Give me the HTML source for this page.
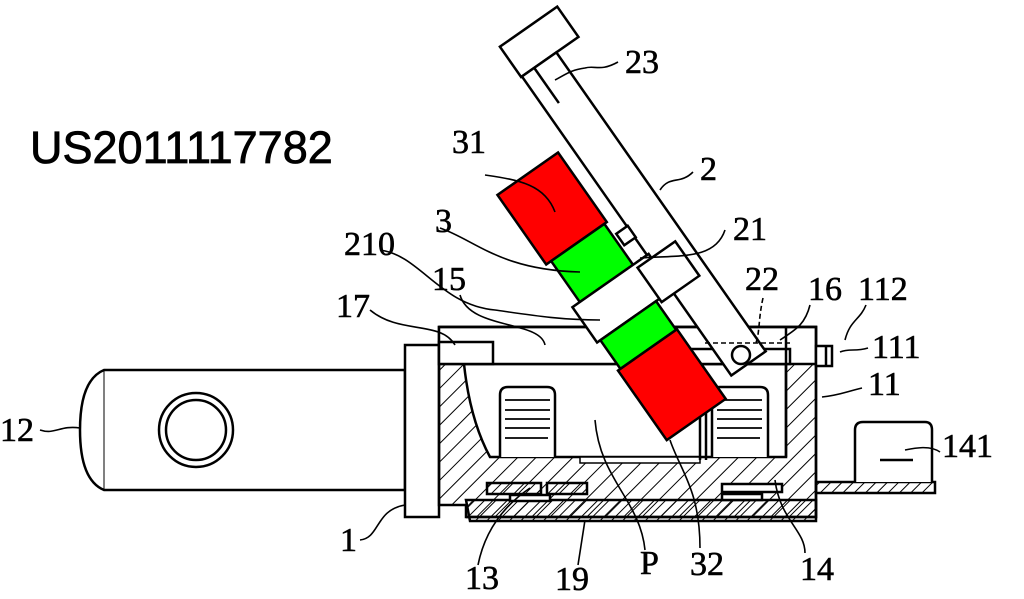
<!DOCTYPE html>
<html><head><meta charset="utf-8"><style>
html,body{margin:0;padding:0;background:#fff;}
svg{display:block;}
.t{font-family:"Liberation Serif",serif;font-size:34px;fill:#000;stroke:#000;stroke-width:0.6;}
</style></head><body>
<svg width="1024" height="599" viewBox="0 0 1024 599" xmlns="http://www.w3.org/2000/svg">
<defs>
<pattern id="h" width="13" height="13" patternUnits="userSpaceOnUse" patternTransform="rotate(45)">
<line x1="0" y1="0" x2="0" y2="13" stroke="#000" stroke-width="2"/>
</pattern>
<pattern id="h2" width="8" height="8" patternUnits="userSpaceOnUse" patternTransform="rotate(45)">
<line x1="0" y1="0" x2="0" y2="8" stroke="#000" stroke-width="2"/>
</pattern>
</defs>
<g fill="none" stroke="#000" stroke-width="2.5">
<path d="M104,370 L405,370 L405,490 L104,490 Q80,480 80,430 Q80,380 104,370 Z" fill="#fff"/>
<line x1="104" y1="370" x2="104" y2="490" stroke-width="1"/>
<circle cx="196" cy="430" r="37"/>
<circle cx="196" cy="430" r="30"/>
<rect x="405" y="345" width="34" height="172" fill="#fff"/>
<path d="M439,327 L816,327 L816,480 L816,517 L466,517 L466,505 L439,505 Z" fill="url(#h)"/>
<path d="M464,364 L786,364 L786,457 L490,457 Q470,420 464,364 Z" fill="#fff"/>
<rect x="439" y="327" width="377" height="37" fill="#fff"/>
<path d="M439,327 L816,327 L816,517 L466,517"/>
<rect x="439" y="342" width="54" height="22" fill="#fff"/>
<rect x="690" y="349" width="100" height="15" fill="#fff"/>
<line x1="786" y1="327" x2="786" y2="457"/>
<path d="M466,500 L816,500 L816,521 L470,521 Z" fill="url(#h2)"/>
<rect x="487" y="483" width="54" height="11" fill="url(#h2)"/>
<rect x="547" y="483" width="40" height="11" fill="url(#h2)"/>
<rect x="510" y="495" width="40" height="6" fill="#fff"/>
<rect x="722" y="484" width="60" height="8" fill="#fff"/>
<rect x="722" y="494" width="40" height="6" fill="#fff"/>
<rect x="580" y="457" width="120" height="6" fill="#fff" stroke-width="1.5"/>
<rect x="816" y="482" width="119" height="11" fill="url(#h2)"/>
<path d="M855,482 L855,430 Q855,422 863,422 L925,422 Q932,422 932,430 L932,482" fill="#fff"/>
<line x1="880" y1="460" x2="913" y2="460"/>
<rect x="816" y="346" width="16" height="20" fill="#fff"/>
<line x1="826" y1="346" x2="826" y2="366"/>
<path d="M500,457 L500,395 Q500,387 508,387 L547,387 Q555,387 555,395 L555,457" fill="#fff"/>
<path d="M712,457 L712,395 Q712,387 720,387 L760,387 Q768,387 768,395 L768,457" fill="#fff"/>
<g stroke-width="1.8">
<line x1="505" y1="400" x2="550" y2="400"/><line x1="505" y1="410" x2="550" y2="410"/><line x1="505" y1="419" x2="550" y2="419"/><line x1="505" y1="428" x2="550" y2="428"/><line x1="505" y1="438" x2="548" y2="438"/>
<line x1="717" y1="400" x2="762" y2="400"/><line x1="717" y1="410" x2="762" y2="410"/><line x1="717" y1="419" x2="762" y2="419"/><line x1="717" y1="428" x2="762" y2="428"/><line x1="717" y1="438" x2="760" y2="438"/>
</g>
<line x1="700" y1="410" x2="700" y2="460"/><line x1="706" y1="410" x2="706" y2="460"/>
<g transform="translate(767,348) rotate(-35)">
<rect x="-46" y="-400" width="70" height="37" fill="#fff"/>
<rect x="-45" y="-363" width="42" height="365" fill="#fff"/>
<line x1="-30" y1="-363" x2="-30" y2="-320"/>
<rect x="-58" y="-180" width="14" height="14" fill="#fff"/>
<rect x="-133" y="-280" width="74" height="85" fill="#f00"/>
<rect x="-127" y="-195" width="65" height="50" fill="#0f0"/>
<rect x="-136" y="-145" width="93" height="43" fill="#fff"/>
<rect x="-60" y="-140" width="46" height="42" fill="#fff"/>
<rect x="-132" y="-102" width="68" height="35" fill="#0f0"/>
<rect x="-135" y="-67" width="72" height="85" fill="#f00"/>
</g>
<circle cx="741" cy="355" r="9" fill="#fff"/>
<line x1="705" y1="343" x2="790" y2="343" stroke-dasharray="5,3" stroke-width="1.5"/>
</g>
<g fill="none" stroke="#000" stroke-width="1.6">
<path d="M618,62 C600,72 595,65 585,68 C570,70 565,75 555,80"/>
<path d="M693,172 C680,185 670,175 660,190"/>
<path d="M485,175 C520,180 545,185 555,212"/>
<path d="M725,230 C715,260 680,255 640,258"/>
<path d="M440,228 C475,240 500,270 580,272"/>
<path d="M380,250 C420,255 440,305 495,310 C530,315 560,320 600,320"/>
<path d="M763,298 C758,320 760,335 755,345" stroke-dasharray="5,3"/>
<path d="M370,310 C400,335 440,320 455,345"/>
<path d="M460,295 C470,330 540,320 545,345"/>
<path d="M810,305 C805,325 795,330 780,340"/>
<path d="M866,305 C860,320 850,320 845,340"/>
<path d="M868,348 C855,352 850,348 840,352"/>
<path d="M862,388 C845,392 840,395 822,397"/>
<path d="M940,452 C930,445 915,448 905,450"/>
<path d="M40,430 C55,435 60,425 80,428"/>
<path d="M360,540 C380,538 375,510 405,505"/>
<path d="M478,565 C485,530 505,505 530,488"/>
<path d="M578,565 L585,520"/>
<path d="M645,550 C640,500 600,480 595,420"/>
<path d="M700,548 C700,490 680,470 670,440"/>
<path d="M805,553 C805,530 780,520 775,480"/>
</g>
<g class="t">
<text x="625" y="73">23</text>
<text x="700" y="180">2</text>
<text x="452" y="153">31</text>
<text x="733" y="240">21</text>
<text x="435" y="232">3</text>
<text x="344" y="255">210</text>
<text x="745" y="290">22</text>
<text x="336" y="317">17</text>
<text x="432" y="290">15</text>
<text x="808" y="300">16</text>
<text x="858" y="300">112</text>
<text x="872" y="358">111</text>
<text x="868" y="395">11</text>
<text x="0" y="441">12</text>
<text x="942" y="457">141</text>
<text x="340" y="551">1</text>
<text x="465" y="589">13</text>
<text x="555" y="590">19</text>
<text x="640" y="574">P</text>
<text x="690" y="575">32</text>
<text x="800" y="580">14</text>
</g>
<text x="30" y="163" font-family="Liberation Sans, sans-serif" font-size="45" stroke="#000" stroke-width="0.8">US2011117782</text>
</svg>
</body></html>
